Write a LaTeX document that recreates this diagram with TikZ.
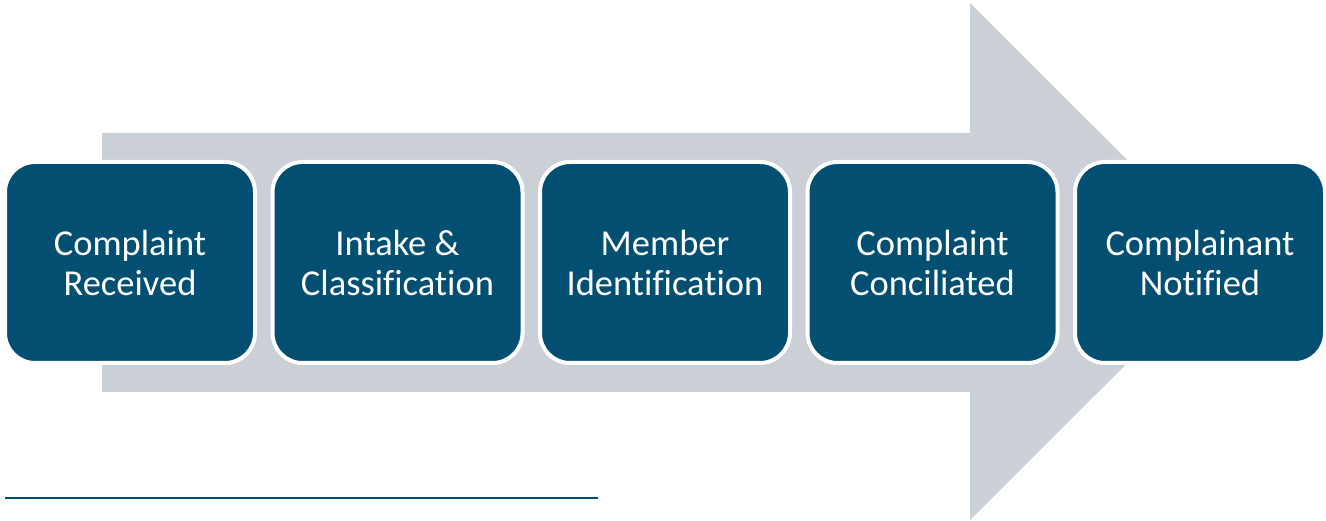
\documentclass[tikz,border=0pt]{standalone}
\usepackage{fontspec}
\setmainfont{Carlito}[Ligatures=NoCommon]
\definecolor{stepblue}{HTML}{034F72}
\definecolor{arrowgray}{HTML}{CBCFD6}
\begin{document}
\begin{tikzpicture}[x=1pt,y=-1pt,
  stepbox/.style={draw=white, line width=4pt, fill=stepblue, rounded corners=30pt,
    minimum width=250pt, minimum height=201pt, inner sep=0pt, align=center,
    text=white, font=\fontsize{36.5}{40}\selectfont},
  rule/.style={draw=stepblue, line width=2pt}]
  \useasboundingbox (0,0) rectangle (1326,521);
  % large background arrow
  \fill[arrowgray] (102,133) -- (970,133) -- (970,3) -- (1229,261.5)
    -- (970,520) -- (970,392) -- (102,392) -- cycle;
  % process steps
  \node[stepbox] (s1) at (130,262.5)   {Complaint\\Received};
  \node[stepbox] (s2) at (397.5,262.5) {Intake \&\\Classification};
  \node[stepbox] (s3) at (665,262.5)   {Member\\Identification};
  \node[stepbox] (s4) at (932.5,262.5) {Complaint\\Conciliated};
  \node[stepbox] (s5) at (1200,262.5)  {Complainant\\Notified};
  % footnote rule
  \coordinate (r1) at (5,497.5);
  \coordinate (r2) at (598,497.5);
  \draw[rule] (r1) -- (r2);
\end{tikzpicture}
\end{document}
